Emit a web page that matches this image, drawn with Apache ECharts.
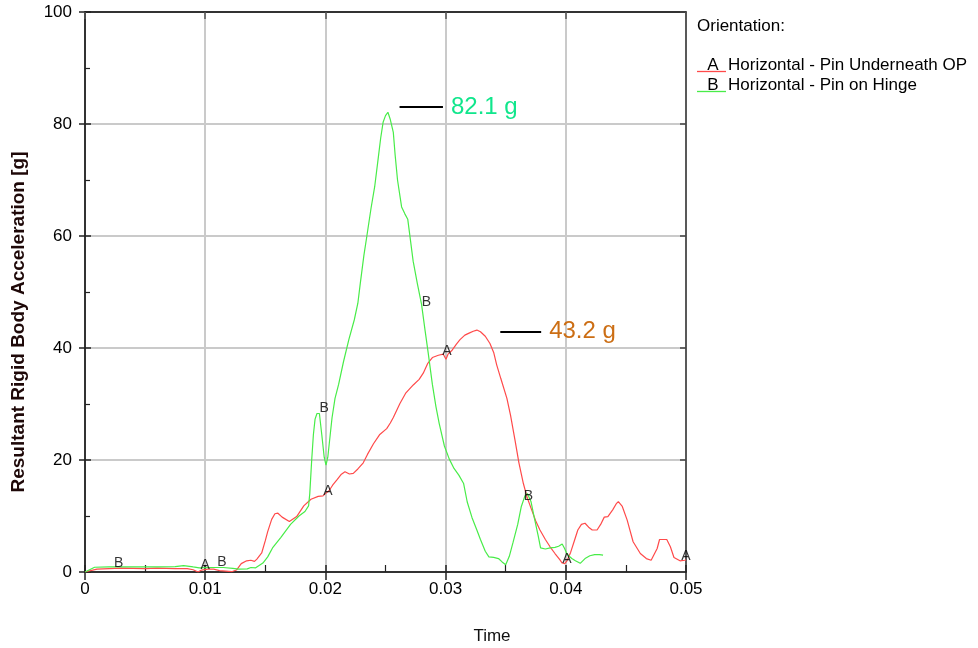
<!DOCTYPE html>
<html>
<head>
<meta charset="utf-8">
<script src="https://cdn.jsdelivr.net/npm/echarts@6/dist/echarts.min.js"></script>
<style>
  html, body { margin: 0; padding: 0; background: #ffffff; }
  #chart { width: 978px; height: 648px; }
</style>
</head>
<body>
<div id="chart"></div>
<script>
// Resultant rigid body acceleration vs. time for two pin orientations

const seriesKeys = ['A', 'B'];
const seriesNames = ['Horizontal - Pin Underneath OP', 'Horizontal - Pin on Hinge'];

// Curve A: Horizontal - Pin Underneath OP
const timeA = [
  0, 0.001, 0.003, 0.005, 0.006, 0.0075, 0.0085, 0.009, 0.0094, 0.0097,
  0.0102, 0.0107, 0.0112, 0.0122, 0.0126, 0.0130, 0.01345, 0.0138, 0.0141, 0.0143,
  0.0147, 0.0150, 0.0152, 0.01553, 0.0158, 0.01605, 0.0164, 0.0170, 0.01761, 0.0182,
  0.0188, 0.0194, 0.0198, 0.0200, 0.0203, 0.0206, 0.02094, 0.0213, 0.02163, 0.0220,
  0.02232, 0.0227, 0.02315, 0.0235, 0.0240, 0.0245, 0.0251, 0.0254, 0.02565, 0.0262,
  0.0267, 0.02731, 0.0278, 0.02814, 0.0285, 0.0289, 0.0294, 0.02981, 0.03003, 0.0302,
  0.0305, 0.0309, 0.0312, 0.0316, 0.0320, 0.0323, 0.0326, 0.0329, 0.0333, 0.03369,
  0.0340, 0.03425, 0.0346, 0.0351, 0.0354, 0.03577, 0.0361, 0.03647, 0.0368, 0.03716,
  0.0375, 0.03785, 0.0383, 0.03869, 0.0391, 0.0395, 0.0397, 0.0399, 0.0401, 0.0404,
  0.0407, 0.0410, 0.0413, 0.0416, 0.0419, 0.0422, 0.0426, 0.0429, 0.0432, 0.0435,
  0.0439, 0.0442, 0.04437, 0.0447, 0.0451, 0.0456, 0.0462, 0.0467, 0.0471, 0.0476,
  0.0478, 0.0484, 0.0487, 0.0490, 0.0495, 0.0499, 0.0500
];
const accelA = [
  0, 0.5, 0.7, 0.6, 0.7, 0.6, 0.6, 0.4, 0.0, 0.35,
  0.5, 0.5, 0.25, 0.05, 0.35, 1.5, 2.0, 2.1, 1.9, 2.3,
  3.4, 5.6, 7.2, 9.4, 10.4, 10.5, 9.8, 9.0, 9.9, 11.8,
  13.0, 13.5, 13.6, 14.0, 14.5, 15.5, 16.4, 17.4, 17.9, 17.5,
  17.6, 18.4, 19.5, 21.0, 22.9, 24.5, 25.6, 26.6, 27.6, 30.1,
  32.0, 33.4, 34.4, 35.5, 37.2, 38.3, 38.7, 38.9, 38.0, 38.9,
  39.5, 40.7, 41.5, 42.3, 42.7, 43.0, 43.2, 42.9, 42.1, 40.8,
  39.2, 37.0, 34.5, 31.0, 28.0, 23.6, 19.5, 15.8, 13.2, 11.1,
  9.1, 7.5, 5.8, 4.5, 3.3, 2.2, 1.6, 1.5, 2.0, 3.5,
  5.5, 7.5, 8.5, 8.7, 8.0, 7.5, 7.5, 8.5, 9.8, 9.9,
  11.1, 12.2, 12.55, 11.7, 9.3, 5.4, 3.3, 2.4, 2.1, 4.2,
  5.8, 5.8, 4.5, 2.6, 2.0, 2.1, 2.2
];

// Curve B: Horizontal - Pin on Hinge
const timeB = [
  0, 0.0008, 0.002, 0.004, 0.006, 0.0075, 0.0082, 0.009, 0.0095, 0.0105,
  0.0115, 0.0123, 0.0128, 0.0135, 0.0138, 0.0142, 0.0148, 0.0152, 0.0156, 0.0163,
  0.0171, 0.0178, 0.0183, 0.0186, 0.0187, 0.01886, 0.0190, 0.01914, 0.0193, 0.0195,
  0.0197, 0.0199, 0.02005, 0.0202, 0.0204, 0.02055, 0.0208, 0.0211, 0.0215, 0.02195,
  0.0224, 0.0227, 0.0229, 0.0232, 0.02345, 0.0238, 0.0241, 0.0244, 0.0246, 0.0248,
  0.0250, 0.0252, 0.0254, 0.02565, 0.0258, 0.0260, 0.02634, 0.0266, 0.02685, 0.0270,
  0.0273, 0.02765, 0.0280, 0.0283, 0.02856, 0.0289, 0.0292, 0.02947, 0.0299, 0.0303,
  0.0307, 0.0311, 0.0315, 0.0318, 0.0322, 0.0326, 0.0329, 0.0333, 0.0336, 0.0340,
  0.0344, 0.0347, 0.0350, 0.0353, 0.0356, 0.0360, 0.0363, 0.0366, 0.0368, 0.0371,
  0.0374, 0.0377, 0.0379, 0.0383, 0.0387, 0.0391, 0.0394, 0.0397, 0.0399, 0.0401,
  0.0405, 0.0408, 0.0412, 0.0416, 0.0420, 0.0424, 0.0428, 0.0431
];
const accelB = [
  0, 0.85, 0.9, 0.9, 0.9, 0.95, 1.15, 0.9, 0.75, 0.8,
  0.8, 0.65, 0.5, 0.55, 0.8, 0.75, 1.6, 2.7, 4.3, 6.2,
  8.5, 10.0, 10.8, 11.8, 14.0, 20.0, 24.5, 27.3, 28.3, 28.3,
  24.5, 20.5, 19.1, 20.5, 24.5, 27.5, 31.0, 33.5, 37.5, 41.5,
  45.0, 48.0, 51.5, 56.5, 60.0, 65.0, 68.8, 74.0, 77.5, 80.3,
  81.5, 82.1, 80.8, 78.5, 74.5, 70.0, 65.2, 64.0, 63.0, 60.5,
  55.5, 51.5, 47.8, 43.0, 39.0, 33.5, 29.5, 26.5, 22.5, 20.2,
  18.5, 17.3, 15.8, 12.5, 9.7, 7.5, 5.8, 3.7, 2.7, 2.6,
  2.4, 1.8, 1.3, 2.8, 5.2, 8.5, 11.7, 13.6, 14.0, 12.6,
  9.5, 6.5, 4.3, 4.1, 4.3, 4.4, 4.6, 5.0, 4.2, 3.2,
  2.4, 2.0, 1.55, 2.4, 2.9, 3.1, 3.1, 3.0
];

// Letter tags placed along each curve
const tagPointsA = [[0.0100, 1.3], [0.0202, 14.4], [0.0301, 39.5], [0.0401, 2.3], [0.0500, 2.9]];
const tagPointsB = [[0.0028, 1.6], [0.0114, 1.8], [0.0199, 29.3], [0.0284, 48.2], [0.0369, 13.6]];

// Axis ticks
const timeTicks = [0, 0.01, 0.02, 0.03, 0.04, 0.05];
const accelTicks = [0, 20, 40, 60, 80, 100];

const FONT = '"Liberation Sans", Arial, Helvetica, sans-serif';
const colorA = '#ff4a4a';
const colorB = '#48ec48';
const peakColorA = '#cc6e14';
const peakColorB = '#10e68c';

function pairs(ts, vs) { return ts.map((t, i) => [t, vs[i]]); }
function peakOf(ts, vs) {
  let k = 0;
  vs.forEach((v, i) => { if (v > vs[k]) k = i; });
  return { t: ts[k], v: vs[k] };
}

const peakA = peakOf(timeA, accelA);
const peakB = peakOf(timeB, accelB);

const xMin = timeTicks[0], xMax = timeTicks[timeTicks.length - 1];
const xStep = timeTicks[1] - timeTicks[0];
const yMin = accelTicks[0], yMax = accelTicks[accelTicks.length - 1];
const yStep = accelTicks[1] - accelTicks[0];

const tickCol = '#222';
const gridCol = '#cacaca';

function fmtTime(v) {
  if (Math.abs(v) < 1e-9) return '0';
  return (Math.round(v * 100) / 100).toString();
}

function baseX(extra) {
  return Object.assign({
    type: 'value', min: xMin, max: xMax, interval: xStep,
    axisLine: { show: false, onZero: false },
    axisLabel: { show: false },
    splitLine: { show: false },
    axisPointer: { show: false }
  }, extra);
}
function baseY(extra) {
  return Object.assign({
    type: 'value', min: yMin, max: yMax, interval: yStep,
    axisLine: { show: false, onZero: false },
    axisLabel: { show: false },
    splitLine: { show: false },
    axisPointer: { show: false }
  }, extra);
}

function calloutLine(peak, dx0, dx1, dy, color, padTop) {
  return {
    silent: true,
    symbol: ['none', 'none'],
    lineStyle: { color: '#000', width: 2, type: 'solid' },
    label: {
      show: true, position: 'end', distance: 8,
      formatter: peak.v.toFixed(1) + ' g',
      color: color, fontSize: 24, fontFamily: FONT,
      padding: [padTop, 0, 0, 0]
    },
    emphasis: { disabled: true },
    data: [[
      { coord: [peak.t + dx0, peak.v + dy] },
      { coord: [peak.t + dx1, peak.v + dy] }
    ]]
  };
}

function tagSeries(points, letter) {
  return {
    type: 'scatter',
    xAxisIndex: 0, yAxisIndex: 0,
    data: points,
    symbol: 'circle', symbolSize: 1,
    itemStyle: { color: 'rgba(0,0,0,0)' },
    silent: true,
    clip: false,
    z: 5,
    label: {
      show: true, position: 'inside', formatter: letter,
      color: '#000', fontSize: 14, fontFamily: FONT
    }
  };
}

const chart = echarts.init(document.getElementById('chart'), null, { renderer: 'canvas' });

const option = {
  animation: false,
  backgroundColor: '#ffffff',
  grid: {
    left: 85, right: 292, top: 12, bottom: 76,
    containLabel: false, outerBoundsMode: 'none'
  },
  xAxis: [
    baseX({
      position: 'bottom',
      axisLine: { show: true, onZero: false, lineStyle: { color: '#000', width: 1.5 } },
      axisTick: { show: true, inside: true, length: 7, lineStyle: { color: tickCol, width: 1.5 } },
      minorTick: { show: true, splitNumber: 2, length: 7, lineStyle: { color: tickCol, width: 1.2 } },
      splitLine: { show: true, lineStyle: { color: gridCol, width: 2 } },
      axisLabel: {
        show: true, margin: 9, fontSize: 17, color: '#000', fontFamily: FONT,
        formatter: fmtTime, showMinLabel: true, showMaxLabel: true
      }
    }),
    baseX({
      position: 'bottom',
      axisTick: { show: true, inside: false, length: 8, lineStyle: { color: tickCol, width: 1.5 } }
    }),
    baseX({
      position: 'top',
      axisLine: { show: true, onZero: false, lineStyle: { color: '#000', width: 1.5 } },
      axisTick: { show: true, inside: true, length: 7, lineStyle: { color: '#555', width: 1.5 } }
    })
  ],
  yAxis: [
    baseY({
      position: 'left',
      axisLine: { show: true, onZero: false, lineStyle: { color: '#000', width: 1.5 } },
      axisTick: { show: true, inside: true, length: 6, lineStyle: { color: tickCol, width: 1.5 } },
      minorTick: { show: true, splitNumber: 2, length: 5, lineStyle: { color: tickCol, width: 1.2 } },
      splitLine: { show: true, lineStyle: { color: gridCol, width: 2 } },
      axisLabel: {
        show: true, margin: 13, fontSize: 17, color: '#000', fontFamily: FONT,
        showMinLabel: true, showMaxLabel: true
      }
    }),
    baseY({
      position: 'left',
      axisTick: { show: true, inside: false, length: 6, lineStyle: { color: tickCol, width: 1.5 } }
    }),
    baseY({
      position: 'right',
      axisLine: { show: true, onZero: false, lineStyle: { color: '#333', width: 1.5 } },
      axisTick: { show: true, inside: true, length: 6, lineStyle: { color: '#444', width: 1.5 } }
    })
  ],
  series: [
    {
      name: seriesNames[0],
      type: 'line',
      xAxisIndex: 0, yAxisIndex: 0,
      data: pairs(timeA, accelA),
      showSymbol: false, symbol: 'none',
      lineStyle: { color: colorA, width: 1.2 },
      itemStyle: { color: colorA },
      z: 2,
      markLine: calloutLine(peakA, 0.00195, 0.00535, -0.25, peakColorA, 4)
    },
    {
      name: seriesNames[1],
      type: 'line',
      xAxisIndex: 0, yAxisIndex: 0,
      data: pairs(timeB, accelB),
      showSymbol: false, symbol: 'none',
      lineStyle: { color: colorB, width: 1.2 },
      itemStyle: { color: colorB },
      z: 3,
      markLine: calloutLine(peakB, 0.00097, 0.00458, 0.9, peakColorB, 9)
    },
    tagSeries(tagPointsA, seriesKeys[0]),
    tagSeries(tagPointsB, seriesKeys[1])
  ],
  graphic: [
    // y-axis title
    {
      type: 'text', x: 19, y: 322, rotation: Math.PI / 2,
      style: {
        text: 'Resultant Rigid Body Acceleration [g]',
        font: 'bold 19px ' + FONT, fill: '#1e0808',
        align: 'center', verticalAlign: 'middle'
      }
    },
    // x-axis title
    {
      type: 'text', x: 492, y: 636,
      style: {
        text: 'Time', font: '17px ' + FONT, fill: '#101010',
        align: 'center', verticalAlign: 'middle'
      }
    },
    // legend heading
    {
      type: 'text', x: 697, y: 26,
      style: { text: 'Orientation:', font: '17px ' + FONT, fill: '#000', align: 'left', verticalAlign: 'middle' }
    }
  ].concat(seriesNames.flatMap((name, i) => {
    const yc = 65.5 + i * 20;
    const col = i === 0 ? colorA : colorB;
    return [
      { type: 'line', shape: { x1: 697, y1: yc + 6, x2: 726, y2: yc + 6 }, style: { stroke: col, lineWidth: 1.3 } },
      { type: 'text', x: 713, y: yc, style: { text: seriesKeys[i], font: '17px ' + FONT, fill: '#000', align: 'center', verticalAlign: 'middle' } },
      { type: 'text', x: 728, y: yc, style: { text: name, font: '17px ' + FONT, fill: '#000', align: 'left', verticalAlign: 'middle' } }
    ];
  }))
};

chart.setOption(option);
</script>
</body>
</html>
